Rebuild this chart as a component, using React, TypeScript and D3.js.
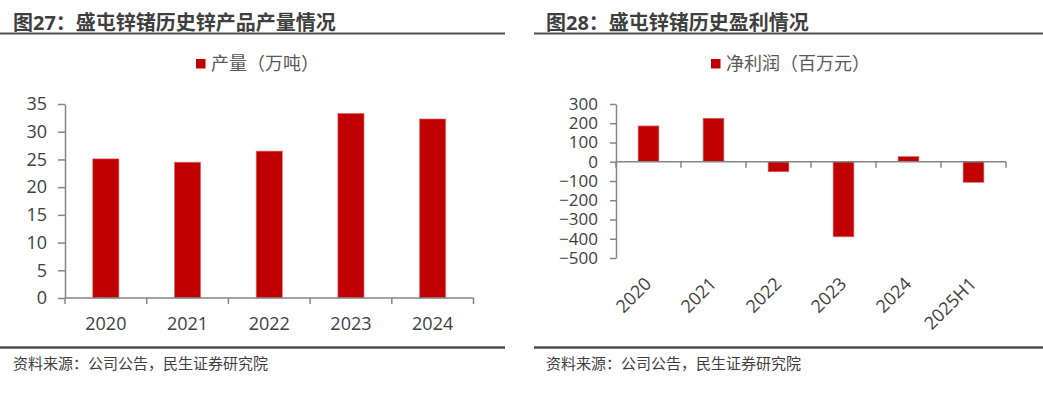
import * as d3 from "d3";
import { useEffect, useRef } from "react";

// 图27 锌产品产量（万吨）
const prodYears = ["2020", "2021", "2022", "2023", "2024"];
const prodValues = [25.1, 24.5, 26.5, 33.3, 32.3];
const prodTicks = [0, 5, 10, 15, 20, 25, 30, 35];

// 图28 净利润（百万元）
const profitPeriods = ["2020", "2021", "2022", "2023", "2024", "2025H1"];
const profitValues = [186, 226, -52, -390, 27, -107];
const profitTicks = [300, 200, 100, 0, -100, -200, -300, -400, -500];

const RED = "#C00000";
const AXIS = "#868686";
const LABEL = "#404040";
const FONT = "'Open Sans', 'Noto Sans CJK SC', sans-serif";

export default function App() {
  const svgRef = useRef(null);

  useEffect(() => {
    const svg = d3.select(svgRef.current);
    svg.selectAll("*").remove();

    // headers, rules and source notes for both panels
    const panels = [
      { x0: 0, x1: 505, tx: 13, title: "图27：盛屯锌锗历史锌产品产量情况", src: "资料来源：公司公告，民生证券研究院" },
      { x0: 534, x1: 1043, tx: 546, title: "图28：盛屯锌锗历史盈利情况", src: "资料来源：公司公告，民生证券研究院" },
    ];
    panels.forEach((p) => {
      svg.append("text")
        .attr("x", p.tx).attr("y", 29.5)
        .attr("font-size", 20).attr("font-weight", "bold")
        .attr("fill", "#3f3f3f").attr("font-family", FONT)
        .text(p.title);
      svg.append("line")
        .attr("x1", p.x0).attr("x2", p.x1).attr("y1", 33.5).attr("y2", 33.5)
        .attr("stroke", "#4d4d4d").attr("stroke-width", 2);
      svg.append("line")
        .attr("x1", p.x0).attr("x2", p.x1).attr("y1", 347.5).attr("y2", 347.5)
        .attr("stroke", "#4d4d4d").attr("stroke-width", 2.5);
      svg.append("text")
        .attr("x", p.tx).attr("y", 369)
        .attr("font-size", 15).attr("fill", LABEL).attr("font-family", FONT)
        .text(p.src);
    });

    const legend = (x: number, label: string) => {
      svg.append("rect").attr("x", x).attr("y", 59).attr("width", 9.5).attr("height", 9.5).attr("fill", RED);
      svg.append("text")
        .attr("x", x + 15).attr("y", 70)
        .attr("font-size", 18).attr("fill", "#595959").attr("font-family", FONT)
        .text(label);
    };
    legend(196, "产量（万吨）");
    legend(711, "净利润（百万元）");

    const styleAxis = (g: any, size: number) => {
      g.select(".domain").attr("stroke", AXIS).attr("stroke-width", 1.5);
      g.selectAll(".tick line").attr("stroke", AXIS).attr("stroke-width", 1.5);
      g.selectAll(".tick text").attr("fill", LABEL);
      g.attr("font-size", size).attr("font-family", FONT);
    };

    // ---- left chart: production ----
    const xL = d3.scaleBand().domain(prodYears).range([65, 473.5]);
    const yL = d3.scaleLinear().domain([0, 35]).range([298, 104]);

    const gyL = svg.append("g").attr("transform", "translate(65,0)")
      .call(d3.axisLeft(yL).tickValues(prodTicks).tickSize(7).tickSizeOuter(0).tickPadding(11));
    styleAxis(gyL, 18);

    const bwL = xL.bandwidth() * 0.32;
    svg.append("g").selectAll("rect")
      .data(prodValues)
      .enter()
      .append("rect")
      .attr("x", (d, i) => xL(prodYears[i])! + (xL.bandwidth() - bwL) / 2)
      .attr("y", (d) => yL(d))
      .attr("width", bwL)
      .attr("height", (d) => yL(0) - yL(d))
      .attr("fill", RED)
      .attr("stroke", "#e07070").attr("stroke-width", 0.6);

    svg.append("line")
      .attr("x1", 65).attr("x2", 473.5).attr("y1", yL(0)).attr("y2", yL(0))
      .attr("stroke", AXIS).attr("stroke-width", 1.5);
    const edgesL = prodYears.map((c) => xL(c)!).concat([473.5]);
    svg.append("g").selectAll("line").data(edgesL).enter().append("line")
      .attr("x1", (d) => d).attr("x2", (d) => d)
      .attr("y1", yL(0)).attr("y2", yL(0) + 6)
      .attr("stroke", AXIS).attr("stroke-width", 1.5);
    svg.append("g").selectAll("text").data(prodYears).enter().append("text")
      .attr("x", (d) => xL(d)! + xL.bandwidth() / 2)
      .attr("y", 329.5)
      .attr("text-anchor", "middle")
      .attr("font-size", 18).attr("fill", LABEL).attr("font-family", FONT)
      .text((d) => d);

    // ---- right chart: net profit ----
    const xR = d3.scaleBand().domain(profitPeriods).range([616, 1006]);
    const yR = d3.scaleLinear().domain([-500, 300]).range([258, 104]);

    const gyR = svg.append("g").attr("transform", "translate(616,0)")
      .call(d3.axisLeft(yR).tickValues(profitTicks).tickSize(6).tickSizeOuter(0).tickPadding(12));
    styleAxis(gyR, 17);

    const bwR = xR.bandwidth() * 0.32;
    svg.append("g").selectAll("rect")
      .data(profitValues)
      .enter()
      .append("rect")
      .attr("x", (d, i) => xR(profitPeriods[i])! + (xR.bandwidth() - bwR) / 2)
      .attr("y", (d) => yR(Math.max(0, d)))
      .attr("width", bwR)
      .attr("height", (d) => Math.abs(yR(d) - yR(0)))
      .attr("fill", RED)
      .attr("stroke", "#e07070").attr("stroke-width", 0.6);

    svg.append("line")
      .attr("x1", 616).attr("x2", 1006).attr("y1", yR(0)).attr("y2", yR(0))
      .attr("stroke", AXIS).attr("stroke-width", 1.5);
    const edgesR = profitPeriods.map((c) => xR(c)!).concat([1006]);
    svg.append("g").selectAll("line").data(edgesR).enter().append("line")
      .attr("x1", (d) => d).attr("x2", (d) => d)
      .attr("y1", yR(0)).attr("y2", yR(0) + 6)
      .attr("stroke", AXIS).attr("stroke-width", 1.5);
    svg.append("g").selectAll("text").data(profitPeriods).enter().append("text")
      .attr("transform", (d) => `translate(${xR(d)! + xR.bandwidth() / 2 + 4},285) rotate(-45)`)
      .attr("text-anchor", "end")
      .attr("font-size", 18).attr("fill", LABEL).attr("font-family", FONT)
      .text((d) => d);
  }, []);

  return (
    <svg
      ref={svgRef}
      width={1043}
      height={396}
      style={{ position: "absolute", left: 0, top: 0, background: "#fff" }}
    ></svg>
  );
}
